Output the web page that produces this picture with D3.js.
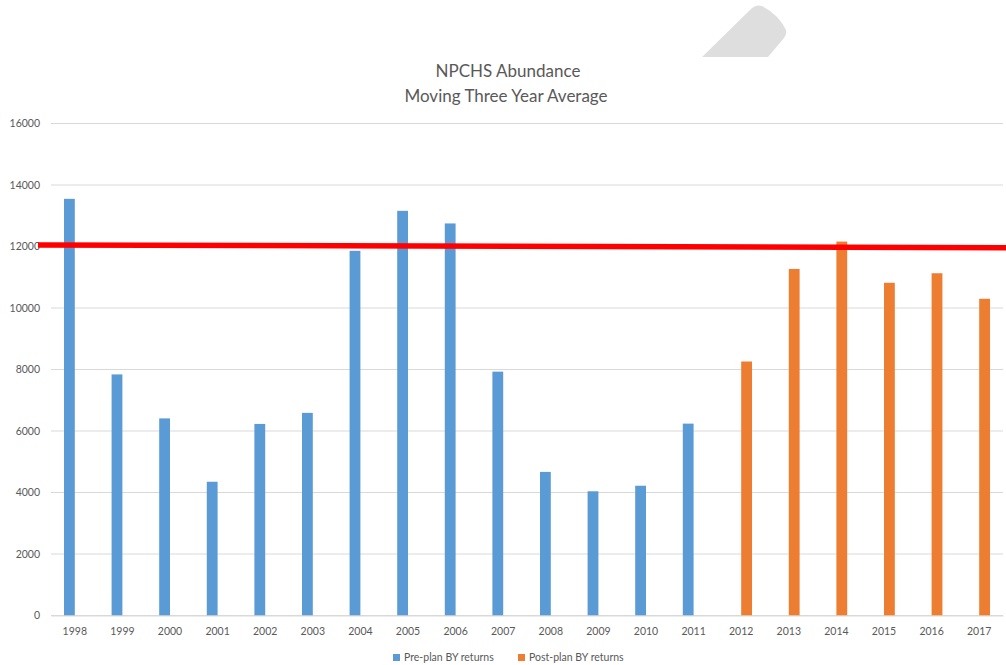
<!DOCTYPE html>
<html>
<head>
<meta charset="utf-8">
<script src="https://cdn.jsdelivr.net/npm/d3@7"></script>
<style>
  body { margin: 0; background: #fff; }
  svg { display: block; font-family: Lato, "Open Sans", sans-serif; }
</style>
</head>
<body>
<div id="chart"></div>
<script>
// chart data
var years = ["1998","1999","2000","2001","2002","2003","2004","2005","2006","2007",
             "2008","2009","2010","2011","2012","2013","2014","2015","2016","2017"];
var preplan = [13550, 7840, 6410, 4350, 6230, 6590, 11860, 13160, 12750, 7930,
               4670, 4040, 4220, 6240, null, null, null, null, null, null];
var postplan = [null, null, null, null, null, null, null, null, null, null,
                null, null, null, null, 8260, 11270, 12160, 10820, 11130, 10300];
var seriesNames = ["Pre-plan BY returns", "Post-plan BY returns"];
var seriesColors = ["#5b9bd5", "#ed7d31"];
var yTicks = [0, 2000, 4000, 6000, 8000, 10000, 12000, 14000, 16000];
var targetLine = [12050, 11960]; // hand drawn red line, left / right end

var width = 1006, height = 665;
var margin = { top: 123.5, right: 3, bottom: 49.5, left: 51 };

var svg = d3.select("#chart").append("svg")
    .attr("width", width)
    .attr("height", height);

svg.append("rect").attr("width", width).attr("height", height).attr("fill", "#fff");

// grey decoration at the top
var deco = d3.path();
deco.moveTo(702, 57);
deco.lineTo(751, 9);
deco.quadraticCurveTo(756, 4, 762, 6);
deco.quadraticCurveTo(779, 15, 786, 30);
deco.quadraticCurveTo(787, 34, 784, 38);
deco.lineTo(768, 57);
deco.closePath();
svg.append("path").attr("d", deco.toString()).attr("fill", "#dedede");

// title
var title = svg.append("text")
    .attr("text-anchor", "middle")
    .attr("fill", "#595959")
    .style("font-size", "17px");
title.append("tspan").attr("x", 508).attr("y", 77).text("NPCHS Abundance");
title.append("tspan").attr("x", 506).attr("y", 102).text("Moving Three Year Average");

var x = d3.scaleBand().domain(years).range([margin.left, width - margin.right]);
var y = d3.scaleLinear().domain([0, 16000]).range([height - margin.bottom, margin.top]);

var barW = x.bandwidth() * 0.227;
var xs = d3.scaleBand().domain(seriesNames)
    .range([x.bandwidth() / 2 - barW, x.bandwidth() / 2 + barW]);

// gridlines
svg.append("g").selectAll("line")
    .data(yTicks)
    .join("line")
    .attr("x1", margin.left)
    .attr("x2", width - margin.right)
    .attr("y1", d => y(d))
    .attr("y2", d => y(d))
    .attr("stroke", "#d9d9d9")
    .attr("stroke-width", 1);

// y axis labels
var yAxis = svg.append("g")
    .attr("transform", `translate(${margin.left},0)`)
    .call(d3.axisLeft(y).tickValues(yTicks).tickSize(0).tickPadding(11).tickFormat(d3.format("d")));
yAxis.select(".domain").remove();
yAxis.selectAll("text").attr("fill", "#595959").style("font-size", "10.5px").style("font-family", "Lato, sans-serif");

// bars
var series = [preplan, postplan];
series.forEach(function (vals, i) {
    var data = years.map((yr, j) => ({ year: yr, value: vals[j] })).filter(d => d.value != null);
    svg.append("g").selectAll("rect")
        .data(data)
        .join("rect")
        .attr("x", d => x(d.year) + xs(seriesNames[i]))
        .attr("width", xs.bandwidth())
        .attr("y", d => y(d.value))
        .attr("height", d => y(0) - y(d.value))
        .attr("fill", seriesColors[i]);
});

// x axis
var xAxis = svg.append("g")
    .attr("transform", `translate(0,${y(0)})`)
    .call(d3.axisBottom(x).tickSize(0).tickPadding(12));
xAxis.select(".domain").attr("stroke", "#d9d9d9");
xAxis.selectAll("text").attr("fill", "#595959").style("font-size", "10.5px").style("font-family", "Lato, sans-serif");

// red line
svg.append("line")
    .attr("x1", margin.left - 13)
    .attr("x2", width)
    .attr("y1", y(targetLine[0]))
    .attr("y2", y(targetLine[1]))
    .attr("stroke", "#ff0000")
    .attr("stroke-width", 5.5);

// legend
var legendX = [393, 518];
var legend = svg.append("g").selectAll("g")
    .data(seriesNames)
    .join("g")
    .attr("transform", (d, i) => `translate(${legendX[i]},654)`);
legend.append("rect")
    .attr("width", 7).attr("height", 7)
    .attr("fill", (d, i) => seriesColors[i]);
legend.append("text")
    .attr("x", 11).attr("y", 7)
    .attr("fill", "#595959")
    .style("font-size", "10.5px")
    .text(d => d);
</script>
</body>
</html>
